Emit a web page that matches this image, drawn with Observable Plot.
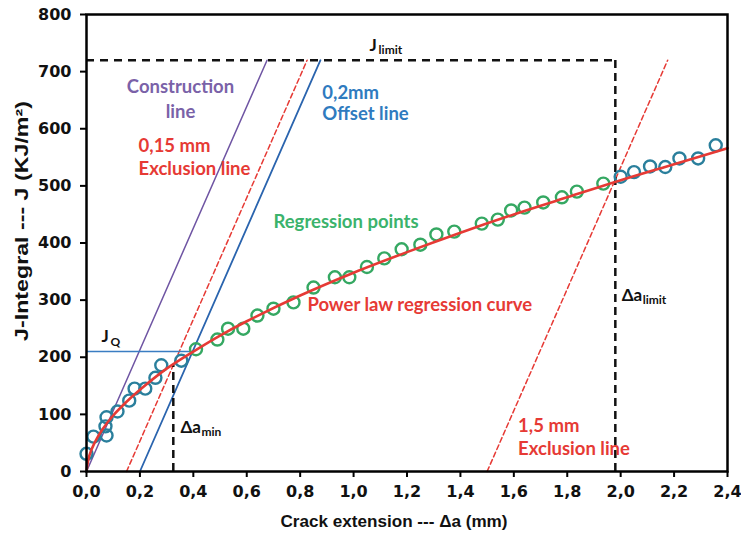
<!DOCTYPE html>
<html>
<head>
<meta charset="utf-8">
<script src="https://cdn.jsdelivr.net/npm/d3@7"></script>
<script src="https://cdn.jsdelivr.net/npm/@observablehq/plot@0.6"></script>
<style>
  html, body { margin: 0; padding: 0; background: #fff; }
</style>
</head>
<body>
<div id="chart"></div>
<script>
// ---- data ----
const xTicks = [0, 0.2, 0.4, 0.6, 0.8, 1.0, 1.2, 1.4, 1.6, 1.8, 2.0, 2.2, 2.4];
const yTicks = [0, 100, 200, 300, 400, 500, 600, 700, 800];

// measured points (Δa mm, J kJ/m²)
const pointsX = [0.0, 0.026, 0.071, 0.075, 0.075, 0.116, 0.16, 0.18, 0.22, 0.258, 0.28, 0.355,
  0.41, 0.49, 0.53, 0.587, 0.64, 0.70, 0.775, 0.85, 0.93, 0.984, 1.05, 1.115, 1.18, 1.25, 1.31, 1.377,
  1.48, 1.54, 1.59, 1.64, 1.71, 1.78, 1.836, 1.935,
  2.0, 2.05, 2.11, 2.167, 2.22, 2.29, 2.356];
const pointsY = [31, 61, 79, 95, 63, 105, 124, 145, 145, 164, 186, 194,
  214, 231, 250, 250, 273, 285, 296, 322, 340, 340, 358, 373, 389, 397, 415, 420,
  434, 441, 457, 462, 471, 480, 490, 504,
  516, 524, 534, 533, 548, 548, 571];
const pointsGroup = pointsX.map((x) => (x > 0.39 && x < 1.97 ? "regression" : "excluded"));

// power-law regression curve
const curveX = [0, 0.01, 0.03, 0.06, 0.1, 0.15, 0.2, 0.3, 0.4, 0.5, 0.6, 0.8, 1.0, 1.2, 1.4, 1.6, 1.8, 2.0, 2.2, 2.4];
const curveY = [0, 27, 50, 74, 98, 122, 143, 180, 210, 238, 263, 308, 348, 384, 418, 450, 480, 510, 538, 566];

// straight construction lines (endpoints)
const lineY = [0, 720];
const constructionX = [0, 0.676];
const exclusion015X = [0.15, 0.826];
const offset02X = [0.2, 0.876];
const exclusion15X = [1.5, 2.176];

// limits
const jLimit = 720;
const daLimit = 1.98;
const daMin = 0.325;
const daMinJ = 186;
const jQ = 210;
const jQx = 0.397;

// axis titles
const xTitle = "Crack extension --- Δa (mm)";
const yTitle = "J-Integral --- J (KJ/m²)";

// ---- colours ----
const purple = "#6f55a3";
const red = "#e63a35";
const blue = "#2a64ae";
const blueText = "#2f7bbf";
const greenPt = "#35a862";
const tealPt = "#2a7f9c";
const greenText = "#3bb36c";
const purpleText = "#7a62a8";

const fmt = (d) => d.toFixed(1).replace(".", ",");
const pts = pointsX.map((x, i) => ({x, y: pointsY[i], g: pointsGroup[i]}));
const curve = curveX.map((x, i) => ({x, y: curveY[i]}));
const seg = (xs) => xs.map((x, i) => ({x, y: lineY[i]}));

const annFont = "Lato, 'Open Sans', sans-serif";
const lbl = (text, x, y, fill, opts = {}) =>
  Plot.text([text], {x: () => x, y: () => y, text: (d) => d, fill, fontFamily: annFont,
    fontWeight: "bold", fontSize: 18.5, textAnchor: "start", ...opts});

const chart = Plot.plot({
  width: 741,
  height: 535,
  marginLeft: 86,
  marginRight: 14,
  marginTop: 14,
  marginBottom: 64,
  x: {domain: [0, 2.4]},
  y: {domain: [0, 800]},
  style: {background: "#fff", overflow: "visible"},
  marks: [
    // straight lines
    Plot.line(seg(constructionX), {x: "x", y: "y", stroke: purple, strokeWidth: 1.5}),
    Plot.line(seg(exclusion015X), {x: "x", y: "y", stroke: red, strokeWidth: 1.5, strokeDasharray: "5,3"}),
    Plot.line(seg(offset02X), {x: "x", y: "y", stroke: blue, strokeWidth: 1.8}),
    Plot.line(seg(exclusion15X), {x: "x", y: "y", stroke: red, strokeWidth: 1.5, strokeDasharray: "5,3"}),
    // limits
    Plot.ruleY([jLimit], {x1: 0, x2: daLimit, stroke: "#111", strokeWidth: 2.5, strokeDasharray: "8,6"}),
    Plot.ruleX([daLimit], {y1: 0, y2: jLimit, stroke: "#111", strokeWidth: 2.5, strokeDasharray: "8,5"}),
    Plot.ruleX([daMin], {y1: 0, y2: daMinJ, stroke: "#111", strokeWidth: 2.5, strokeDasharray: "8,5"}),
    Plot.ruleY([jQ], {x1: 0, x2: jQx, stroke: "#3a7dc2", strokeWidth: 1.6}),
    // points
    Plot.dot(pts, {x: "x", y: "y", r: 6, strokeWidth: 2.4, fill: "none",
      stroke: (d) => (d.g === "regression" ? greenPt : tealPt)}),
    // regression curve
    Plot.line(curve, {x: "x", y: "y", stroke: red, strokeWidth: 2.6, curve: "catmull-rom"}),
    // frame & axes
    Plot.frame({stroke: "#000", strokeWidth: 2.5}),
    Plot.axisX(xTicks, {tickFormat: fmt, tickSize: 6, tickPadding: 8, strokeWidth: 2, fontSize: 16,
      fontWeight: "bold", fontFamily: "'DejaVu Sans', sans-serif", fill: "#111", label: null}),
    Plot.axisY(yTicks, {tickSize: 6, tickPadding: 9, strokeWidth: 2, fontSize: 16,
      fontWeight: "bold", fontFamily: "'DejaVu Sans', sans-serif", fill: "#111", label: null}),
    Plot.text([xTitle], {frameAnchor: "bottom", dx: -13, dy: 50, text: (d) => d,
      textAnchor: "middle", lineAnchor: "middle",
      fontSize: 17, fontWeight: "bold", fontFamily: "'Liberation Sans', Arial, sans-serif", fill: "#111"}),
    Plot.text([yTitle], {frameAnchor: "left", dx: -64, dy: -22, rotate: -90, text: (d) => d,
      textAnchor: "middle", lineAnchor: "middle",
      fontSize: 18, fontWeight: "bold", fontFamily: "'Liberation Sans', Arial, sans-serif", fill: "#111"}),
    // annotations
    lbl("Construction", 0.352, 673, purpleText, {textAnchor: "middle"}),
    lbl("line", 0.352, 629, purpleText, {textAnchor: "middle"}),
    lbl("0,15 mm", 0.195, 569, red),
    lbl("Exclusion line", 0.195, 529, red),
    lbl("0,2mm", 0.883, 663, blueText),
    lbl("Offset line", 0.883, 625, blueText),
    lbl("Regression points", 0.70, 436, greenText),
    lbl("Power law regression curve", 0.827, 291, red),
    lbl("1,5 mm", 1.616, 80, red),
    lbl("Exclusion line", 1.616, 40, red),
    // subscripted labels
    lbl("J", 1.06, 746, "#111", {fontSize: 17}),
    lbl("limit", 1.06, 746, "#111", {dx: 9, dy: 5, fontSize: 12}),
    lbl("J", 0.056, 236, "#111", {fontSize: 17}),
    lbl("Q", 0.056, 236, "#111", {dx: 9, dy: 5, fontSize: 12}),
    lbl("Δa", 0.352, 77, "#111", {fontSize: 17}),
    lbl("min", 0.352, 77, "#111", {dx: 21, dy: 5, fontSize: 12}),
    lbl("Δa", 2.004, 308, "#111", {fontSize: 17}),
    lbl("limit", 2.004, 308, "#111", {dx: 21, dy: 5, fontSize: 12})
  ]
});
document.getElementById("chart").appendChild(chart);
// stretch the axis titles along their direction to the lengths seen in the reference
d3.select(chart).selectAll("text").each(function () {
  const t = this.textContent;
  let target = null;
  if (t === xTitle) target = 227;
  if (t === yTitle) target = 240;
  if (target) {
    const len = this.getComputedTextLength();
    const tr = this.getAttribute("transform") || "";
    const s = target / len;
    this.setAttribute("transform", (tr + ` scale(${s.toFixed(3)},1)`).trim());
  }
});
</script>
</body>
</html>
